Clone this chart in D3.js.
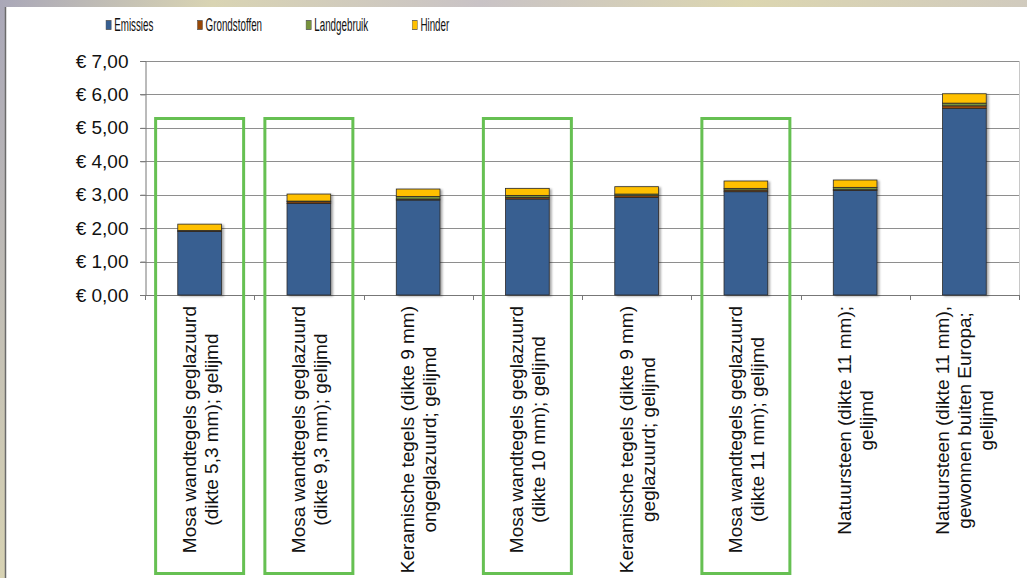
<!DOCTYPE html>
<html>
  <head>
    <title>Kosten per m2 wandtegels</title>
    <script src="https://d3js.org/d3.v7.min.js"></script>
    <style>
      body { margin: 0; padding: 0; overflow: hidden; }
      svg { display: block; font-family: "Liberation Sans", Arial, sans-serif; }
    </style>
  </head>
  <body>
    <script>
      // data
      var categories = [
        ["Mosa wandtegels geglazuurd", "(dikte 5,3 mm); gelijmd"],
        ["Mosa wandtegels geglazuurd", "(dikte 9,3 mm); gelijmd"],
        ["Keramische tegels (dikte 9 mm)", "ongeglazuurd; gelijmd"],
        ["Mosa wandtegels geglazuurd", "(dikte 10 mm); gelijmd"],
        ["Keramische tegels (dikte 9 mm)", "geglazuurd; gelijmd"],
        ["Mosa wandtegels geglazuurd", "(dikte 11 mm); gelijmd"],
        ["Natuursteen (dikte 11 mm);", "gelijmd"],
        ["Natuursteen (dikte 11 mm),", "gewonnen buiten Europa;", "gelijmd"]
      ];
      var seriesNames = ["Emissies", "Grondstoffen", "Landgebruik", "Hinder"];
      var seriesColors = ["#375f91", "#984807", "#77933c", "#ffc000"];
      var emissies     = [1.90, 2.74, 2.84, 2.87, 2.92, 3.09, 3.13, 5.58];
      var grondstoffen = [0.02, 0.05, 0.03, 0.05, 0.05, 0.05, 0.02, 0.08];
      var landgebruik  = [0.01, 0.02, 0.08, 0.06, 0.05, 0.05, 0.07, 0.08];
      var hinder       = [0.19, 0.21, 0.22, 0.21, 0.22, 0.22, 0.22, 0.28];
      var yTicks = [0, 1, 2, 3, 4, 5, 6, 7];
      var highlighted = [0, 1, 3, 5]; // green boxes (Mosa tegels)

      var width = 1027;
      var height = 578;
      var margin = {top: 61, left: 145, right: 8, bottom: 283};

      var svg = d3.select("body")
        .append("svg")
        .attr("width", width)
        .attr("height", height);

      // background picture behind the slide panel
      var defs = svg.append("defs");
      var bg = defs.append("linearGradient").attr("id", "bg")
        .attr("x1", "0").attr("y1", "0").attr("x2", "1").attr("y2", "0.2");
      bg.append("stop").attr("offset", "0").attr("stop-color", "#a9a7b8");
      bg.append("stop").attr("offset", "0.2").attr("stop-color", "#d9d4b3");
      bg.append("stop").attr("offset", "0.45").attr("stop-color", "#c9c3c6");
      bg.append("stop").attr("offset", "0.7").attr("stop-color", "#dcd6b0");
      bg.append("stop").attr("offset", "1").attr("stop-color", "#cfc9c0");

      var shadow = defs.append("filter").attr("id", "shadow")
        .attr("x", "-20%").attr("y", "-20%").attr("width", "140%").attr("height", "140%");
      shadow.append("feDropShadow")
        .attr("dx", 2).attr("dy", 1).attr("stdDeviation", 1.2)
        .attr("flood-color", "#000").attr("flood-opacity", 0.35);

      svg.append("rect")
        .attr("width", width).attr("height", height)
        .attr("fill", "url(#bg)");

      svg.append("rect")
        .attr("x", 5).attr("y", 7)
        .attr("width", width - 5).attr("height", height - 7)
        .attr("fill", "#ffffff");
      svg.append("line")
        .attr("x1", 5.5).attr("x2", 5.5).attr("y1", 7).attr("y2", height)
        .attr("stroke", "#6b6b6b").attr("stroke-width", 1.5);

      var xScale = d3.scaleBand()
        .domain(d3.range(categories.length))
        .range([margin.left, width - margin.right])
        .paddingInner(0.6)
        .paddingOuter(0.3);

      var xOuter = d3.scaleBand()
        .domain(d3.range(categories.length))
        .range([margin.left, width - margin.right]);

      var yScale = d3.scaleLinear()
        .domain([0, 7])
        .range([height - margin.bottom, margin.top]);

      // gridlines
      svg.append("g")
        .selectAll("line")
        .data(yTicks)
        .enter()
        .append("line")
          .attr("x1", margin.left - 5)
          .attr("x2", width - margin.right)
          .attr("y1", function(d) { return Math.round(yScale(d)) + 0.5; })
          .attr("y2", function(d) { return Math.round(yScale(d)) + 0.5; })
          .attr("stroke", function(d) { return d === 0 ? "#777" : "#8e8e8e"; })
          .attr("stroke-width", 1);

      // plot area right border
      svg.append("line")
        .attr("x1", width - margin.right + 0.5).attr("x2", width - margin.right + 0.5)
        .attr("y1", yScale(7)).attr("y2", yScale(0))
        .attr("stroke", "#c8c8c8");

      // y axis
      var yAxis = svg.append("g")
        .attr("transform", `translate(${margin.left + 0.5},0)`)
        .call(d3.axisLeft(yScale)
          .tickValues(yTicks)
          .tickSize(5)
          .tickPadding(12)
          .tickFormat(function(d) { return "€ " + d3.format(".2f")(d).replace(".", ","); }));
      yAxis.select(".domain").attr("stroke", "#777");
      yAxis.selectAll(".tick line").attr("stroke", "#777");
      yAxis.selectAll("text")
        .attr("font-size", "19px")
        .attr("font-family", "Liberation Sans, Arial, sans-serif")
        .attr("fill", "#111");

      // x ticks at band boundaries
      svg.append("g")
        .selectAll("line")
        .data(d3.range(categories.length + 1))
        .enter()
        .append("line")
          .attr("x1", function(i) { return Math.round(margin.left + i * xOuter.bandwidth()) + 0.5; })
          .attr("x2", function(i) { return Math.round(margin.left + i * xOuter.bandwidth()) + 0.5; })
          .attr("y1", yScale(0))
          .attr("y2", yScale(0) + 5)
          .attr("stroke", "#777");

      // stacked bars
      var table = categories.map(function(c, i) {
        return {i: i, Emissies: emissies[i], Grondstoffen: grondstoffen[i], Landgebruik: landgebruik[i], Hinder: hinder[i]};
      });
      var stack = d3.stack().keys(seriesNames)(table);

      var barGroups = svg.append("g")
        .selectAll("g")
        .data(table)
        .enter()
        .append("g")
          .attr("filter", "url(#shadow)");

      barGroups.each(function(row) {
        var g = d3.select(this);
        stack.forEach(function(layer, k) {
          var seg = layer[row.i];
          g.append("rect")
            .attr("x", xScale(row.i))
            .attr("y", yScale(seg[1]))
            .attr("width", xScale.bandwidth())
            .attr("height", yScale(seg[0]) - yScale(seg[1]))
            .attr("fill", seriesColors[k])
            .attr("stroke", "#2b2b2b")
            .attr("stroke-width", 0.8);
        });
      });

      // category labels, rotated, lines centred on each other
      var labelTop = 306;
      var labels = svg.append("g")
        .selectAll("g")
        .data(categories)
        .enter()
        .append("g");

      labels.each(function(lines, i) {
        var g = d3.select(this);
        var lineH = 22;
        var cx = xOuter(i) + xOuter.bandwidth() / 2;
        var texts = lines.map(function(t, j) {
          return g.append("text")
            .attr("font-size", "19px")
            .attr("fill", "#111")
            .attr("text-anchor", "middle")
            .text(t);
        });
        var maxW = d3.max(texts, function(t) { return t.node().getComputedTextLength(); });
        texts.forEach(function(t, j) {
          var x = cx + (j - (lines.length - 1) / 2) * lineH + 7;
          var y = labelTop + maxW / 2;
          t.attr("transform", `translate(${x},${y}) rotate(-90)`);
        });
      });

      // green highlight boxes
      svg.append("g")
        .selectAll("rect")
        .data(highlighted)
        .enter()
        .append("rect")
          .attr("x", function(i) { return xOuter(i) + xOuter.bandwidth() / 2 - 44; })
          .attr("y", 118.5)
          .attr("width", 88)
          .attr("height", 455)
          .attr("fill", "none")
          .attr("stroke", "#66c052")
          .attr("stroke-width", 3);

      // legend (squeezed horizontally like the original)
      var legendScale = 0.545;
      var legend = svg.append("g")
        .attr("transform", `translate(106,0) scale(${legendScale},1)`);
      var cursor = 0;
      seriesNames.forEach(function(name, k) {
        legend.append("rect")
          .attr("x", cursor).attr("y", 20.5)
          .attr("width", 9.5).attr("height", 9)
          .attr("fill", seriesColors[k])
          .attr("stroke", "#555").attr("stroke-width", 0.8);
        var t = legend.append("text")
          .attr("x", cursor + 15)
          .attr("y", 31)
          .attr("font-size", "18px")
          .attr("fill", "#111")
          .text(name);
        cursor += 15 + t.node().getComputedTextLength() + 44 / legendScale;
      });
    </script>
  </body>
</html>
